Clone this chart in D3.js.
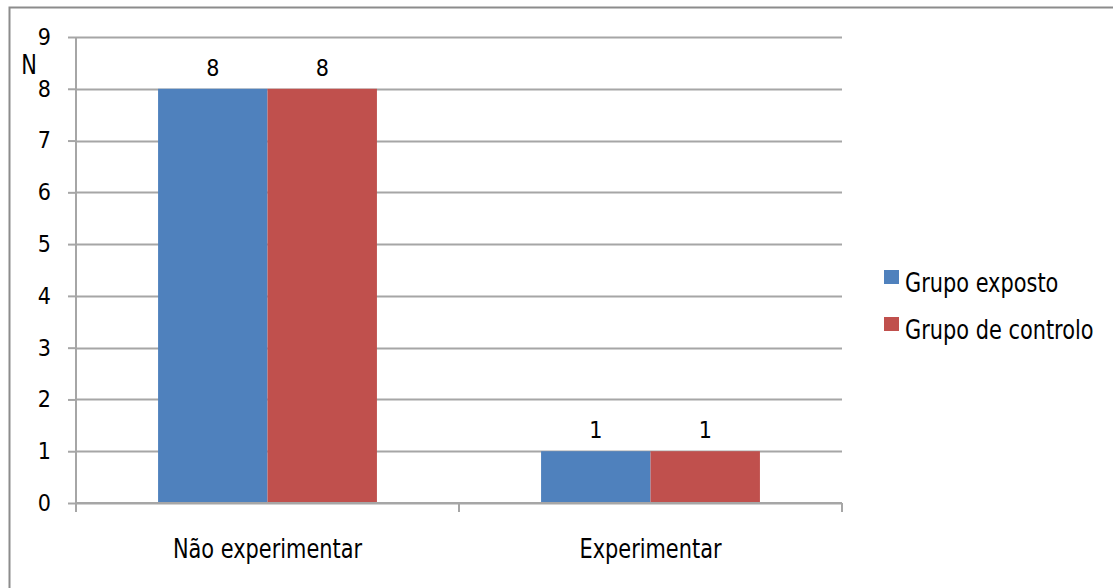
<!DOCTYPE html>
<html>
<head>
<meta charset="utf-8">
<script src="https://cdn.jsdelivr.net/npm/d3@7"></script>
<style>
  html, body { margin: 0; padding: 0; background: #fff; }
  svg { display: block; }
  text { font-family: "DejaVu Sans Condensed", "DejaVu Sans", sans-serif; fill: #000; }
</style>
</head>
<body>
<svg id="chart" width="1113" height="588"></svg>
<script>
// Chart data
const categories = ["Não experimentar", "Experimentar"];
const seriesNames = ["Grupo exposto", "Grupo de controlo"];
const grupoExposto = [8, 1];
const grupoControlo = [8, 1];
const yTicks = [0, 1, 2, 3, 4, 5, 6, 7, 8, 9];
const colors = ["#4f81bd", "#c0504d"];
const seriesValues = [grupoExposto, grupoControlo];

const svg = d3.select("#chart");
const W = 1113, H = 588;
const margin = { left: 76, top: 37, right: 842, bottom: 503 };
const NARROW = 0.86; // horizontal squeeze for the narrow label face

// Outer frame (open to the right and bottom)
svg.append("path")
  .attr("d", `M9.5,${H + 2} V7.5 H${W + 2}`)
  .attr("fill", "none")
  .attr("stroke", "#8c8c8c")
  .attr("stroke-width", 2);

const x = d3.scaleBand().domain(categories).range([margin.left, margin.right]);
const y = d3.scaleLinear().domain([0, 9]).range([margin.bottom, margin.top]);
// 150% gap between clusters: two bars + 1.5 bar widths of space per category
const barW = x.bandwidth() / 3.5;
const xs = d3.scaleBand().domain(seriesNames)
  .range([0.75 * barW, x.bandwidth() - 0.75 * barW]);

// Horizontal gridlines
svg.append("g").selectAll("line").data(yTicks).join("line")
  .attr("x1", margin.left).attr("x2", margin.right)
  .attr("y1", d => Math.round(y(d)) + 0.5).attr("y2", d => Math.round(y(d)) + 0.5)
  .attr("stroke", "#a6a6a6").attr("stroke-width", 2);

// Y axis
const yAxis = d3.axisLeft(y).tickValues(yTicks).tickSize(8).tickPadding(17).tickFormat(d3.format("d"));
const gy = svg.append("g").attr("transform", `translate(${margin.left},0)`).call(yAxis);
gy.select(".domain").attr("stroke", "#a6a6a6").attr("stroke-width", 2)
  .attr("d", `M0,${margin.top}V${margin.bottom}`);
gy.selectAll(".tick line").attr("stroke", "#a6a6a6").attr("stroke-width", 2);
gy.selectAll(".tick text").attr("font-size", 23).attr("font-family", null).attr("fill", "#000");

// Helper for squeezed text
function narrowText(sel, tx, ty, size, anchor) {
  return sel.append("text")
    .attr("transform", `translate(${tx},${ty}) scale(${NARROW},1)`)
    .attr("text-anchor", anchor || "start")
    .attr("font-size", size);
}

// Axis title
narrowText(svg, 29, 74, 27, "middle").text("N");

// Bars
const groups = svg.append("g").selectAll("g").data(categories).join("g")
  .attr("transform", d => `translate(${x(d)},0)`);
groups.selectAll("rect")
  .data((c, i) => seriesNames.map((s, j) => ({ s, v: seriesValues[j][i], j })))
  .join("rect")
  .attr("x", d => xs(d.s)).attr("width", xs.bandwidth())
  .attr("y", d => y(d.v)).attr("height", d => y(0) - y(d.v))
  .attr("fill", d => colors[d.j]);

// Value labels
groups.selectAll("text.val")
  .data((c, i) => seriesNames.map((s, j) => ({ s, v: seriesValues[j][i] })))
  .join("text").attr("class", "val")
  .attr("x", d => xs(d.s) + xs.bandwidth() / 2)
  .attr("y", d => y(d.v) - 13)
  .attr("text-anchor", "middle").attr("font-size", 23)
  .text(d => d.v);

// X axis
const gx = svg.append("g").attr("transform", `translate(0,${margin.bottom})`);
gx.append("line").attr("x1", margin.left).attr("x2", margin.right)
  .attr("stroke", "#a6a6a6").attr("stroke-width", 2);
const bounds = [margin.left, ...categories.slice(1).map(c => x(c)), margin.right];
gx.selectAll("line.tk").data(bounds).join("line").attr("class", "tk")
  .attr("x1", d => d).attr("x2", d => d).attr("y1", 0).attr("y2", 9)
  .attr("stroke", "#a6a6a6").attr("stroke-width", 2);
categories.forEach(c => {
  narrowText(gx, x(c) + x.bandwidth() / 2, 55, 27, "middle").text(c);
});

// Legend
const lg = svg.append("g").selectAll("g").data(seriesNames).join("g")
  .attr("transform", (d, i) => `translate(884,${270 + i * 47})`);
lg.append("rect").attr("width", 15).attr("height", 14).attr("fill", (d, i) => colors[i]);
lg.each(function (d) {
  narrowText(d3.select(this), 21, 22, 27, "start").text(d);
});
</script>
</body>
</html>
